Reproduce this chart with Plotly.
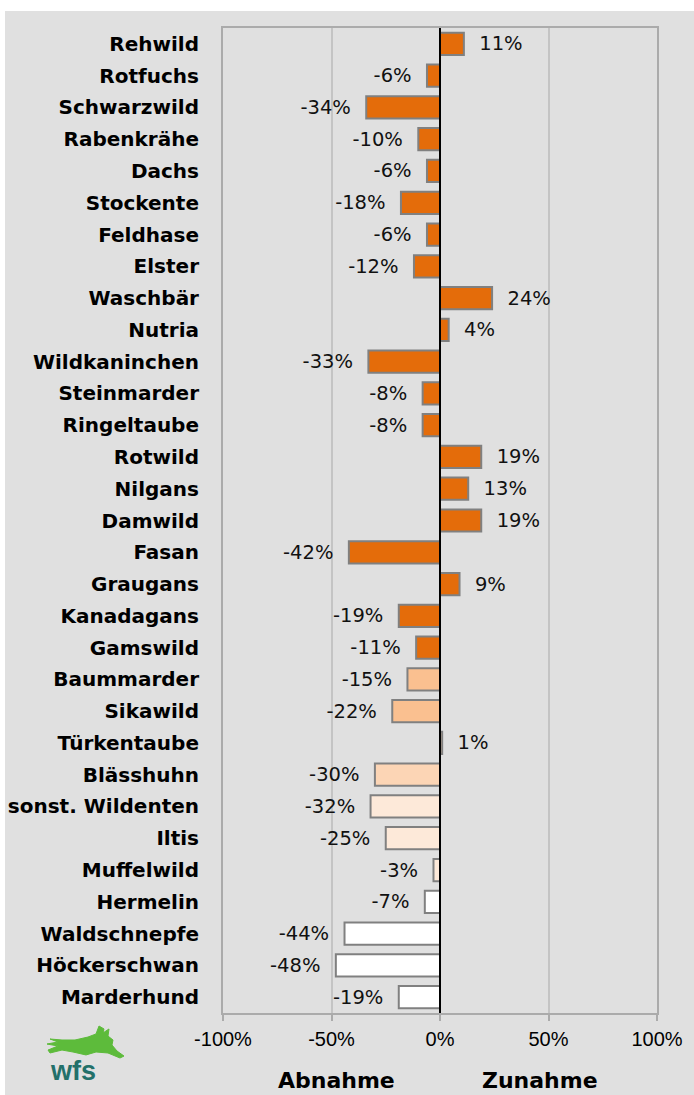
import plotly.graph_objects as go

categories = ["Rehwild", "Rotfuchs", "Schwarzwild", "Rabenkrähe", "Dachs", "Stockente",
              "Feldhase", "Elster", "Waschbär", "Nutria", "Wildkaninchen", "Steinmarder",
              "Ringeltaube", "Rotwild", "Nilgans", "Damwild", "Fasan", "Graugans",
              "Kanadagans", "Gamswild", "Baummarder", "Sikawild", "Türkentaube",
              "Blässhuhn", "sonst. Wildenten", "Iltis", "Muffelwild", "Hermelin",
              "Waldschnepfe", "Höckerschwan", "Marderhund"]
changes = [11, -6, -34, -10, -6, -18, -6, -12, 24, 4, -33, -8, -8, 19, 13, 19, -42, 9,
           -19, -11, -15, -22, 1, -30, -32, -25, -3, -7, -44, -48, -19]
groups = [0] * 20 + [1, 1, 1, 2, 3, 3, 3, 4, 4, 4, 4]
group_colors = ["#E46C0A", "#FAC090", "#FCD5B5", "#FDE9D9", "#FFFFFF"]
tick_vals = [-1, -0.5, 0, 0.5, 1]
tick_text = ["-100%", "-50%", "0%", "50%", "100%"]

W, H = 694, 1095
ML, MR, MT, MB = 223, 37, 28, 82
PW, PH = W - ML - MR, H - MT - MB


def px_x(p):
    return (p - ML) / PW


def px_y(p):
    return (H - MB - p) / PH


NB = "\u00a0"
labels = [(NB * 2 + f"{v}%") if v >= 0 else (f"{v}%" + NB * 2) for v in changes]

fig = go.Figure()
fig.add_trace(go.Bar(
    y=categories,
    x=[v / 100 for v in changes],
    orientation="h",
    marker=dict(color=[group_colors[g] for g in groups],
                line=dict(color="#808080", width=2)),
    width=0.70,
    text=labels,
    textposition="outside",
    constraintext="none",
    cliponaxis=False,
    textfont=dict(family="DejaVu Sans", size=19.5, color="#111111"),
    hoverinfo="skip",
))

shapes = [
    # gray background panel
    dict(type="rect", xref="paper", yref="paper", layer="below",
         x0=px_x(5), x1=px_x(W + 5), y0=px_y(H + 5), y1=px_y(11),
         fillcolor="#E0E0E0", line=dict(width=0)),
    # zero axis line
    dict(type="line", xref="x", yref="paper", x0=0, x1=0, y0=0, y1=1,
         line=dict(color="#000000", width=2), layer="above"),
]

# logo hare silhouette (decoration)
hare = [(47, 1044), (58, 1042), (50, 1039), (62, 1040), (75, 1040), (88, 1037),
        (96, 1034), (99, 1026), (104, 1029), (103, 1033), (109, 1029), (108, 1036),
        (113, 1040), (112, 1045), (117, 1051), (124, 1056), (120, 1058), (108, 1053),
        (96, 1052), (86, 1055), (73, 1052), (62, 1050), (50, 1053), (48, 1050),
        (58, 1046)]
path = "M " + " L ".join(f"{px_x(a):.4f},{px_y(b):.4f}" for a, b in hare) + " Z"
shapes.append(dict(type="path", xref="paper", yref="paper", path=path,
                   fillcolor="#5DBB3B", line=dict(color="#5DBB3B", width=1)))

annotations = [
    dict(text="<b>wfs</b>", xref="paper", yref="paper", x=px_x(73), y=px_y(1071),
         showarrow=False, font=dict(family="Liberation Sans Narrow, Liberation Sans", size=27,
                                    color="#23706A"), xanchor="center", yanchor="middle"),
    dict(text="<b>Abnahme</b>", xref="paper", yref="paper", x=px_x(336), y=px_y(1080),
         showarrow=False, font=dict(family="DejaVu Sans", size=22, color="#000000"),
         xanchor="center", yanchor="middle"),
    dict(text="<b>Zunahme</b>", xref="paper", yref="paper", x=px_x(540), y=px_y(1080),
         showarrow=False, font=dict(family="DejaVu Sans", size=22, color="#000000"),
         xanchor="center", yanchor="middle"),
]

fig.update_layout(
    width=W, height=H,
    margin=dict(l=ML, r=MR, t=MT, b=MB, pad=0, autoexpand=False),
    paper_bgcolor="#FFFFFF",
    plot_bgcolor="#E0E0E0",
    showlegend=False,
    shapes=shapes,
    annotations=annotations,
    bargap=0.3,
)
fig.update_xaxes(
    range=[-1, 1], tickvals=tick_vals, ticktext=tick_text,
    showgrid=True, gridcolor="#C4C4C4", gridwidth=1.5,
    zeroline=False, automargin=False,
    showline=True, mirror=True, linecolor="#ABABAB", linewidth=2,
    ticks="outside", ticklen=6, tickcolor="#ABABAB", tickwidth=2,
    tickfont=dict(family="Liberation Sans", size=20, color="#000000"),
    ticklabelstandoff=1,
    fixedrange=True,
)
fig.update_yaxes(
    autorange="reversed", automargin=False,
    showgrid=False, zeroline=False,
    showline=True, mirror=True, linecolor="#ABABAB", linewidth=2,
    ticks="",
    tickfont=dict(family="DejaVu Sans", size=20, color="#000000", weight="bold"),
    ticklabelstandoff=18,
    fixedrange=True,
)

fig.write_html("out.html", config={"displayModeBar": False},
               post_script="document.body.style.margin='0';document.body.style.overflow='hidden';")
